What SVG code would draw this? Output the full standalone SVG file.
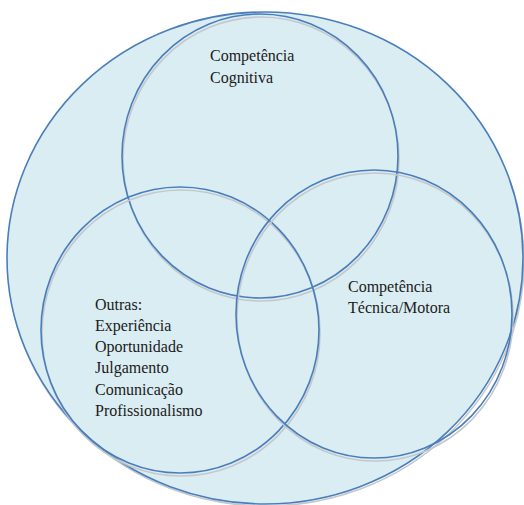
<svg xmlns="http://www.w3.org/2000/svg" width="524" height="505" viewBox="0 0 524 505">
<style>
.bg{fill:#ffffff}
.shadow{fill:none;stroke:#c4c8cc;stroke-width:1.6}
.shape{fill:#daedf3;stroke:#4a7ebb;stroke-width:1.6}
.ring{fill:none;stroke:#4a7ebb;stroke-width:1.6}
.lbl{font-family:'Liberation Serif','Times New Roman','DejaVu Serif',serif;font-size:16px;fill:#1a1a1a}
</style>
<rect class="bg" width="524" height="505"/>
<g id="outer">
<ellipse class="shadow" cx="266" cy="261" rx="258" ry="245"/>
<ellipse class="shape" cx="265" cy="258" rx="258" ry="246"/>
</g>
<g id="cognitiva">
<ellipse class="shadow" cx="261" cy="159" rx="138" ry="142"/>
<ellipse class="ring" cx="260" cy="156" rx="138" ry="142"/>
<text class="lbl" font-family="Liberation Serif, serif" x="210" y="61">Competência</text>
<text class="lbl" font-family="Liberation Serif, serif" x="210" y="83">Cognitiva</text>
</g>
<g id="outras">
<ellipse class="shadow" cx="181" cy="333" rx="139" ry="143"/>
<ellipse class="ring" cx="180" cy="330" rx="139" ry="143"/>
<text class="lbl" x="95" y="310">Outras:</text>
<text class="lbl" x="95" y="331">Experiência</text>
<text class="lbl" x="95" y="352">Oportunidade</text>
<text class="lbl" x="95" y="373">Julgamento</text>
<text class="lbl" x="95" y="395">Comunicação</text>
<text class="lbl" x="95" y="416">Profissionalismo</text>
</g>
<g id="tecnica">
<ellipse class="shadow" cx="375" cy="317" rx="138" ry="144"/>
<ellipse class="ring" cx="374" cy="314" rx="138" ry="144"/>
<text class="lbl" x="348" y="292">Competência</text>
<text class="lbl" x="348" y="313">Técnica/Motora</text>
</g>
<g id="connectors"/>
</svg>
